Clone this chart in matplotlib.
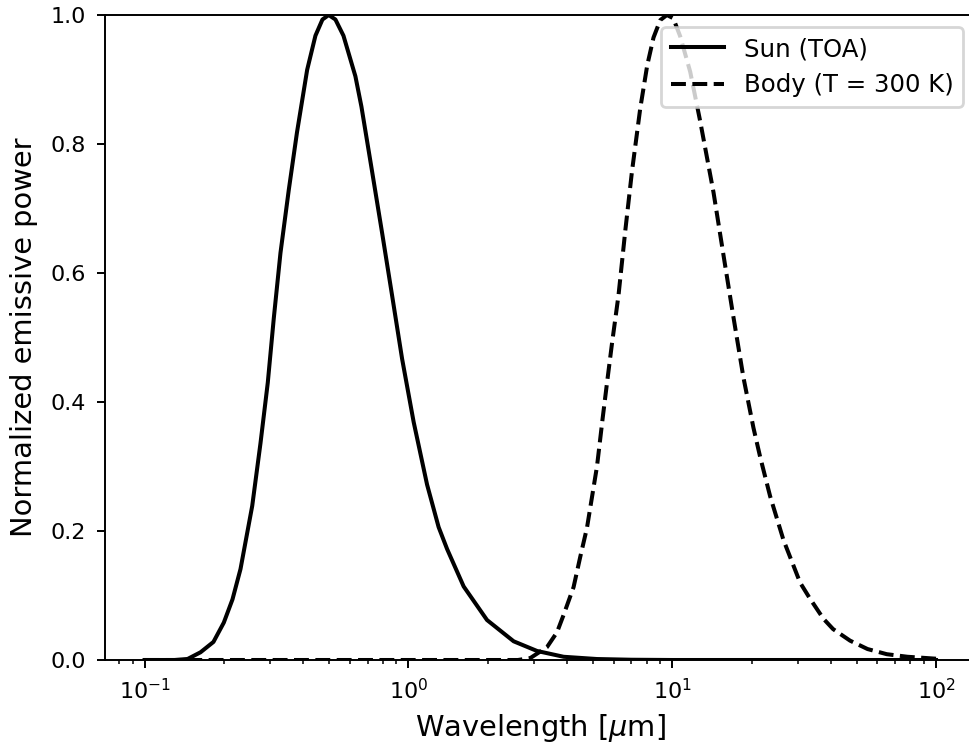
import matplotlib
matplotlib.use("Agg")
import matplotlib.pyplot as plt

# Sun (TOA) normalized emissive power
sun_wavelength = [0.1, 0.13, 0.1456, 0.163, 0.1824, 0.1997, 0.2154, 0.231, 0.2559, 0.275,
                  0.2931, 0.3089, 0.3274, 0.3521, 0.3782, 0.4133, 0.4443, 0.4723,
                  0.4989, 0.529, 0.5673, 0.6297, 0.6637, 0.7287, 0.7951, 0.8675,
                  0.9465, 1.047, 1.177, 1.302, 1.402, 1.62, 1.986, 2.506, 3.073,
                  3.876, 5.186, 7.0, 10.0, 30.0, 100.0]
sun_power = [0.0, 0.0, 0.0016, 0.012, 0.028, 0.058, 0.094, 0.141, 0.239, 0.336,
             0.430, 0.530, 0.631, 0.729, 0.818, 0.915, 0.968, 0.993,
             1.0, 0.993, 0.968, 0.905, 0.858, 0.757, 0.662, 0.565,
             0.467, 0.369, 0.272, 0.206, 0.172, 0.114, 0.062, 0.029, 0.014,
             0.005, 0.0015, 0.0004, 0.0, 0.0, 0.0]

# Body (T = 300 K) normalized emissive power
body_wavelength = [0.1, 0.5, 1.0, 2.0, 2.6, 2.898, 3.353, 3.659, 3.876, 4.228, 4.482,
                   4.753, 5.186, 5.45, 5.658, 5.909, 6.26, 6.637, 7.036, 7.564,
                   8.041, 8.494, 9.006, 9.548, 10.09, 10.72, 11.7, 12.77, 14.34,
                   15.64, 16.9, 18.62, 20.32, 21.54, 23.5, 26.41, 30.53, 33.3, 37.42,
                   40.7, 47.22, 55.0, 65.07, 78.0, 92.2, 100.0]
body_power = [0.0, 0.0, 0.0, 0.0, 0.0, 0.003, 0.020, 0.043, 0.070, 0.113, 0.160,
              0.205, 0.300, 0.375, 0.429, 0.490, 0.566, 0.665, 0.757, 0.855,
              0.922, 0.965, 0.992, 1.0, 0.995, 0.967, 0.912, 0.835, 0.725,
              0.628, 0.542, 0.438, 0.360, 0.315, 0.254, 0.186, 0.120, 0.095, 0.064,
              0.048, 0.030, 0.017, 0.009, 0.005, 0.003, 0.002]

W, H, DPI = 969, 753, 200
plt.rcParams.update({
    'xtick.labelsize': 8,
    'ytick.labelsize': 8,
    'xtick.major.size': 3.0,
    'ytick.major.size': 3.0,
    'xtick.minor.size': 1.6,
    'xtick.major.width': 0.7,
    'ytick.major.width': 0.7,
    'xtick.minor.width': 0.55,
    'axes.linewidth': 0.7,
    'xtick.major.pad': 3.3,
    'ytick.major.pad': 3.8,
})
fig = plt.figure(figsize=(W / DPI, H / DPI), dpi=DPI)
left_px, right_px, top_px, bottom_px = 105, 975.6, 15, 660
ax = fig.add_axes([left_px / W, 1 - bottom_px / H,
                   (right_px - left_px) / W, (bottom_px - top_px) / H])

ax.plot(sun_wavelength, sun_power, color='k', linestyle='-', linewidth=1.45, label='Sun (TOA)')
ax.plot(body_wavelength, body_power, color='k', linestyle='--', linewidth=1.45,
        label='Body (T = 300 K)')
ax.set_xscale('log')
ax.set_xlim(10 ** -1.15, 10 ** 2.15)
ax.set_ylim(0, 1.0)
ax.set_xlabel(r'Wavelength [$\mu$m]', fontsize=10.4, labelpad=3.5)
ax.set_ylabel('Normalized emissive power', fontsize=10.4, labelpad=4.5)
ax.legend(loc='upper right', fontsize=8.8, handlelength=2.2)

fig.savefig('out.png', dpi=DPI)
